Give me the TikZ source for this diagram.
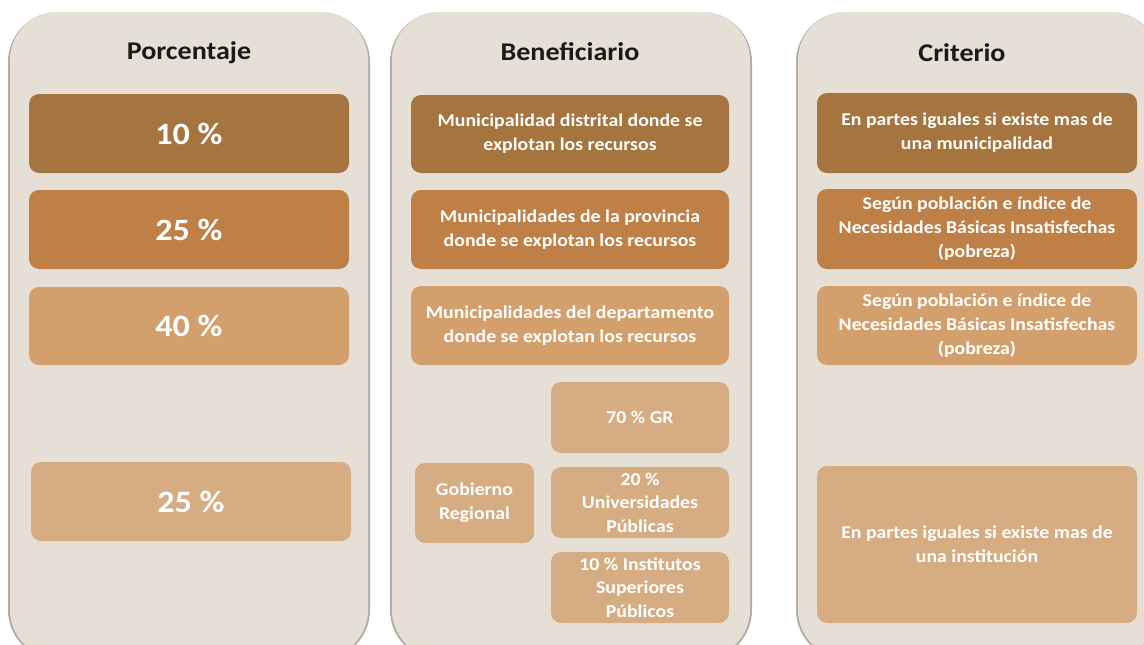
\documentclass[tikz,border=0pt]{standalone}
\usepackage{fontspec}
\setmainfont{Carlito}[FakeStretch=1.1]
\definecolor{cdark}{HTML}{A6743E}
\definecolor{cmid}{HTML}{BE8047}
\definecolor{clight}{HTML}{D3A06D}
\definecolor{clighter}{HTML}{D6AC82}
\definecolor{cbg}{HTML}{E6DFD5}
\definecolor{cshadow}{HTML}{B5ADA3}
\definecolor{ctitle}{HTML}{1A1A1A}
\tikzset{
  panel/.style={fill=cbg, rounded corners=48pt},
  panelshadow/.style={fill=cshadow, rounded corners=50pt},
  title/.style={font=\fontsize{25.5}{28}\selectfont\bfseries, text=ctitle},
  box/.style={rounded corners=10pt, text=white, align=center, inner sep=0pt,
    font=\fontsize{18}{24}\selectfont\bfseries},
  pctbox/.style={box, font=\fontsize{31}{34}\selectfont\bfseries},
}
\begin{document}
\begin{tikzpicture}[x=1pt,y=-1pt]
\useasboundingbox (0,0) rectangle (1144,645);
\fill[white] (0,0) rectangle (1144,645);
% panels
\fill[panelshadow] (8,12) rectangle (370,660);
\fill[panel] (10,12) rectangle (368,658);
\fill[panelshadow] (390,12) rectangle (752,660);
\fill[panel] (392,12) rectangle (750,658);
\fill[panelshadow] (796,12) rectangle (1160,660);
\fill[panel] (798,12) rectangle (1158,658);
% titles
\node[title] (t1) at (189,53) {Porcentaje};
\node[title] (t2) at (570,52) {Beneficiario};
\node[title] (t3) at (962,53) {Criterio};
% column 1
\node[pctbox, fill=cdark, minimum width=320pt, minimum height=79pt] (p1) at (189,133.5) {10 \%};
\node[pctbox, fill=cmid, minimum width=320pt, minimum height=79pt] (p2) at (189,229.5) {25 \%};
\node[pctbox, fill=clight, minimum width=320pt, minimum height=78pt] (p3) at (189,326) {40 \%};
\node[pctbox, fill=clighter, minimum width=320pt, minimum height=79pt] (p4) at (191,501.5) {25 \%};
% column 2
\node[box, fill=cdark, minimum width=318pt, minimum height=78pt] (b1) at (570,134) {Municipalidad distrital donde se\\explotan los recursos};
\node[box, fill=cmid, minimum width=318pt, minimum height=79pt] (b2) at (570,229.5) {Municipalidades de la provincia\\donde se explotan los recursos};
\node[box, fill=clight, minimum width=318pt, minimum height=79pt] (b3) at (570,325.5) {Municipalidades del departamento\\donde se explotan los recursos};
\node[box, fill=clighter, minimum width=178pt, minimum height=71pt] (g70) at (640,417.5) {70 \% GR};
\node[box, fill=clighter, minimum width=119pt, minimum height=80pt] (gob) at (474.5,503) {Gobierno\\Regional};
\node[box, fill=clighter, minimum width=178pt, minimum height=71pt, font=\fontsize{18}{23.5}\selectfont\bfseries] (u20) at (640,502.5) {20 \%\\Universidades\\Públicas};
\node[box, fill=clighter, minimum width=178pt, minimum height=71pt, font=\fontsize{18}{23.5}\selectfont\bfseries] (i10) at (640,587.5) {10 \% Institutos\\Superiores\\Públicos};
% column 3
\node[box, fill=cdark, minimum width=320pt, minimum height=80pt] (c1) at (977,133) {En partes iguales si existe mas de\\una municipalidad};
\node[box, fill=cmid, minimum width=320pt, minimum height=80pt] (c2) at (977,229) {Según población e índice de\\Necesidades Básicas Insatisfechas\\(pobreza)};
\node[box, fill=clight, minimum width=320pt, minimum height=79pt] (c3) at (977,325.5) {Según población e índice de\\Necesidades Básicas Insatisfechas\\(pobreza)};
\node[box, fill=clighter, minimum width=320pt, minimum height=157pt] (c4) at (977,544.5) {En partes iguales si existe mas de\\una institución};
\end{tikzpicture}
\end{document}
